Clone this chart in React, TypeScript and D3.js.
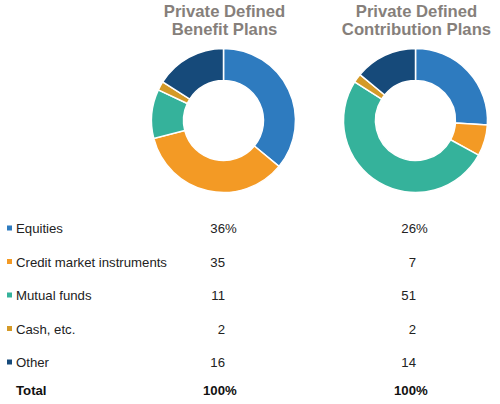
import React, { useEffect, useRef } from "react";
import * as d3 from "d3";

const categories = ["Equities", "Credit market instruments", "Mutual funds", "Cash, etc.", "Other"];
const colors = ["#2e7bbf", "#f39a25", "#35b29b", "#d49a28", "#164a7a"];
const benefitValues = [36, 35, 11, 2, 16];
const contributionValues = [26, 7, 51, 2, 14];
const titles = [
  ["Private Defined", "Benefit Plans"],
  ["Private Defined", "Contribution Plans"],
];

const App = () => {
  const svgRef = useRef<SVGSVGElement | null>(null);

  useEffect(() => {
    const svg = d3.select(svgRef.current);
    svg.selectAll("*").remove();

    const width = 500;
    const height = 404;
    svg.attr("width", width).attr("height", height);

    const font = "'Liberation Sans', Arial, sans-serif";
    const series = [benefitValues, contributionValues];
    const centersX = [223.5, 415.5];
    const centerY = 120.5;

    const pie = d3.pie<number>().sort(null).value((d) => d);
    const arc = d3.arc<d3.PieArcDatum<number>>().innerRadius(40).outerRadius(72);

    series.forEach((values, s) => {
      const g = svg.append("g").attr("transform", `translate(${centersX[s]},${centerY})`);
      g.selectAll("path")
        .data(pie(values))
        .join("path")
        .attr("d", arc)
        .attr("fill", (d, i) => colors[i])
        .attr("stroke", "white")
        .attr("stroke-width", 1.5);

      // two-line title
      titles[s].forEach((line, k) => {
        svg
          .append("text")
          .attr("x", centersX[s] + 1)
          .attr("y", 17 + k * 18)
          .attr("text-anchor", "middle")
          .attr("font-family", font)
          .attr("font-weight", "bold")
          .attr("font-size", "16.7px")
          .attr("fill", "#867f7b")
          .text(line);
      });
    });

    // table
    const rowY = d3.scalePoint<string>().domain(categories).range([233, 367]);
    const valueX = [225, 416];
    const fs = "13.2px";

    categories.forEach((cat, i) => {
      const y = rowY(cat) as number;
      svg
        .append("rect")
        .attr("x", 7)
        .attr("y", y - 7.5)
        .attr("width", 5)
        .attr("height", 5)
        .attr("fill", colors[i]);
      svg
        .append("text")
        .attr("x", 16)
        .attr("y", y)
        .attr("font-family", font)
        .attr("font-size", fs)
        .attr("fill", "#222")
        .text(cat);

      series.forEach((values, s) => {
        const t = svg
          .append("text")
          .attr("x", valueX[s])
          .attr("y", y)
          .attr("font-family", font)
          .attr("font-size", fs)
          .attr("fill", "#222");
        t.append("tspan").attr("text-anchor", "end").text(values[i]);
        if (i === 0) t.append("tspan").attr("x", valueX[s]).text("%");
      });
    });

    const totalY = 395;
    svg
      .append("text")
      .attr("x", 16)
      .attr("y", totalY)
      .attr("font-family", font)
      .attr("font-size", fs)
      .attr("font-weight", "bold")
      .attr("fill", "#111")
      .text("Total");

    series.forEach((values, s) => {
      const t = svg
        .append("text")
        .attr("x", valueX[s])
        .attr("y", totalY)
        .attr("font-family", font)
        .attr("font-size", fs)
        .attr("font-weight", "bold")
        .attr("fill", "#111");
      t.append("tspan").attr("text-anchor", "end").text(d3.sum(values));
      t.append("tspan").attr("x", valueX[s]).text("%");
    });
  }, []);

  return <svg ref={svgRef} style={{ position: "absolute", left: 0, top: 0 }}></svg>;
};

export default App;
